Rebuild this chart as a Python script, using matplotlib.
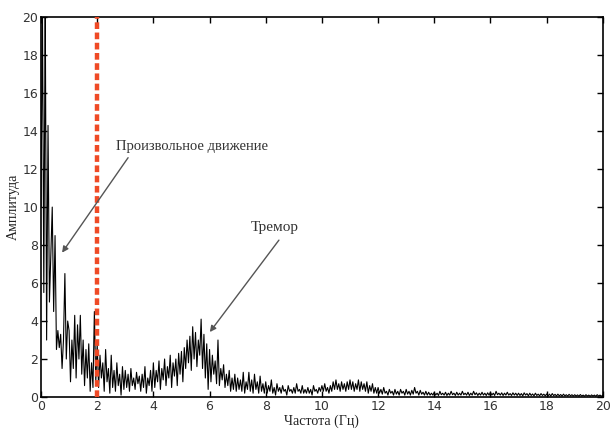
import numpy as np
import matplotlib
matplotlib.use("Agg")
import matplotlib.pyplot as plt

# Frequency grid step (Hz) and amplitude values
freq_step = 0.05
amp = [
    # 0.00 - 0.95
    10.0, 21.0, 5.5, 21.0, 3.0, 14.3, 5.0, 7.5, 10.0, 4.5, 8.5, 2.5, 3.5, 2.6, 3.3, 1.5, 3.0, 6.5, 2.0, 4.0,
    # 1.00 - 1.95
    3.5, 0.8, 3.0, 1.5, 4.3, 1.0, 3.8, 2.0, 4.3, 1.2, 3.0, 0.6, 2.5, 1.0, 2.8, 0.3, 1.8, 0.5, 4.5, 0.8,
    # 2.00 - 2.95
    2.8, 0.5, 2.2, 1.0, 1.8, 0.3, 2.5, 0.8, 1.5, 0.2, 2.2, 0.5, 1.4, 0.3, 1.8, 0.6, 1.2, 0.1, 1.6, 0.4,
    # 3.00 - 3.95
    1.4, 0.5, 1.2, 0.3, 1.5, 0.6, 1.0, 0.4, 1.3, 0.7, 1.1, 0.3, 1.2, 0.5, 1.6, 0.2, 1.0, 0.6, 1.4, 0.3,
    # 4.00 - 4.95
    1.8, 0.5, 1.4, 0.8, 1.9, 0.4, 1.5, 0.9, 2.0, 0.6, 1.6, 1.0, 2.2, 0.5, 1.8, 1.1, 2.0, 0.6, 2.3, 1.2,
    # 5.00 - 5.95
    2.4, 0.8, 2.6, 1.5, 3.0, 1.8, 3.2, 1.4, 3.7, 2.0, 3.4, 1.6, 3.0, 2.2, 4.1, 1.5, 3.3, 1.0, 2.8, 0.4,
    # 6.00 - 6.95
    2.5, 0.8, 2.2, 1.2, 1.9, 0.7, 3.0, 0.6, 1.5, 0.9, 1.7, 0.5, 1.2, 0.6, 1.4, 0.3, 1.0, 0.4, 1.2, 0.3,
    # 7.00 - 7.95
    1.0, 0.4, 0.9, 0.3, 1.3, 0.2, 0.8, 0.4, 1.3, 0.3, 0.9, 0.2, 1.2, 0.4, 0.8, 0.2, 1.1, 0.3, 0.7, 0.2,
    # 8.00 - 8.95
    0.8, 0.2, 0.6, 0.3, 0.9, 0.2, 0.5, 0.1, 0.7, 0.3, 0.5, 0.2, 0.6, 0.3, 0.4, 0.1, 0.6, 0.3, 0.4, 0.2,
    # 9.00 - 9.95
    0.5, 0.2, 0.7, 0.3, 0.4, 0.2, 0.6, 0.2, 0.4, 0.2, 0.5, 0.2, 0.4, 0.1, 0.6, 0.3, 0.4, 0.2, 0.5, 0.3,
    # 10.00 - 10.95
    0.6, 0.3, 0.7, 0.3, 0.5, 0.2, 0.6, 0.3, 0.8, 0.4, 0.9, 0.4, 0.7, 0.3, 0.8, 0.4, 0.7, 0.3, 0.8, 0.4,
    # 11.00 - 11.95
    0.9, 0.4, 0.8, 0.3, 0.7, 0.4, 0.9, 0.3, 0.8, 0.4, 0.7, 0.3, 0.8, 0.2, 0.6, 0.3, 0.7, 0.2, 0.5, 0.2,
    # 12.00 - 12.95
    0.5, 0.2, 0.4, 0.15, 0.5, 0.2, 0.3, 0.1, 0.4, 0.2, 0.3, 0.1, 0.4, 0.15, 0.3, 0.1, 0.4, 0.2, 0.3, 0.1,
    # 13.00 - 13.95
    0.4, 0.15, 0.3, 0.1, 0.35, 0.15, 0.5, 0.2, 0.3, 0.1, 0.35, 0.15, 0.25, 0.1, 0.3, 0.1, 0.25, 0.1, 0.2, 0.1,
    # 14.00 - 14.95
    0.25, 0.1, 0.2, 0.08, 0.3, 0.12, 0.2, 0.1, 0.25, 0.08, 0.2, 0.1, 0.3, 0.12, 0.2, 0.08, 0.25, 0.1, 0.2, 0.1,
    # 15.00 - 15.95
    0.3, 0.12, 0.2, 0.1, 0.25, 0.08, 0.2, 0.1, 0.3, 0.12, 0.22, 0.08, 0.2, 0.1, 0.25, 0.1, 0.2, 0.08, 0.22, 0.1,
    # 16.00 - 16.95
    0.25, 0.1, 0.2, 0.08, 0.3, 0.12, 0.2, 0.1, 0.22, 0.08, 0.2, 0.1, 0.25, 0.1, 0.18, 0.08, 0.22, 0.1, 0.2, 0.08,
    # 17.00 - 17.95
    0.2, 0.08, 0.18, 0.06, 0.22, 0.1, 0.18, 0.06, 0.2, 0.08, 0.16, 0.06, 0.2, 0.08, 0.15, 0.06, 0.18, 0.08, 0.15, 0.06,
    # 18.00 - 18.95
    0.16, 0.06, 0.15, 0.05, 0.18, 0.07, 0.14, 0.05, 0.15, 0.06, 0.13, 0.05, 0.15, 0.06, 0.12, 0.05, 0.14, 0.06, 0.12, 0.05,
    # 19.00 - 19.95
    0.12, 0.05, 0.11, 0.04, 0.13, 0.05, 0.1, 0.04, 0.12, 0.05, 0.1, 0.04, 0.11, 0.05, 0.1, 0.04, 0.12, 0.05, 0.1, 0.04,
    # 20.00
    0.1,
]
freq = np.arange(len(amp)) * freq_step

cutoff_freq = 2.0
xticks = [0, 2, 4, 6, 8, 10, 12, 14, 16, 18, 20]
yticks = [0, 2, 4, 6, 8, 10, 12, 14, 16, 18, 20]
xlabel = "Частота (Гц)"
ylabel = "Амплитуда"
note1 = "Произвольное движение"
note2 = "Тремор"

fig = plt.figure(figsize=(6.12, 4.29), dpi=100)
ax = fig.add_axes([0.067, 0.0746, 0.918, 0.8854])

ax.plot(freq, amp, color="black", lw=0.8)
ax.axvline(cutoff_freq, color="#ef4a26", lw=3.2, linestyle=(0, (1.5, 0.8)), zorder=3)

ax.set_xlim(0, 20)
ax.set_ylim(0, 20)
ax.set_xticks(xticks)
ax.set_yticks(yticks)
ax.tick_params(direction="in", top=True, right=True, length=4, width=1,
               labelsize=9, labelcolor="#333333", pad=2)
for lab in ax.get_xticklabels() + ax.get_yticklabels():
    lab.set_family("DejaVu Sans")
for s in ax.spines.values():
    s.set_linewidth(1.2)

serif = ["Liberation Serif", "DejaVu Serif"]
ax.set_xlabel(xlabel, family=serif, fontsize=10, color="#222222", labelpad=1)
ax.set_ylabel(ylabel, family=serif, fontsize=10, color="#222222", labelpad=2)

arrow = dict(arrowstyle="-|>", color="#555555", lw=1.0, mutation_scale=9, shrinkA=0, shrinkB=0)
ax.annotate("", xy=(0.75, 7.6), xytext=(3.1, 12.6), arrowprops=arrow)
ax.text(2.67, 13.2, note1, family=serif, fontsize=10.5, color="#333333", ha="left", va="center")
ax.annotate("", xy=(6.01, 3.42), xytext=(8.47, 8.26), arrowprops=arrow)
ax.text(8.33, 8.9, note2, family=serif, fontsize=11, color="#333333", ha="center", va="center")

fig.savefig("out.png", dpi=100)
